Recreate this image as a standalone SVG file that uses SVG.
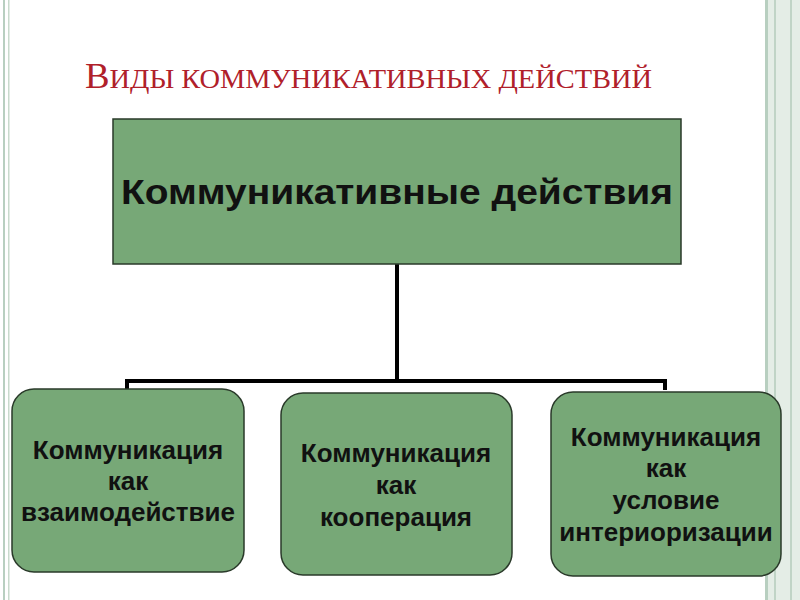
<svg xmlns="http://www.w3.org/2000/svg" width="800" height="600" viewBox="0 0 800 600">
<style>
.box{fill:#77A877;stroke:#2a3a2a;stroke-width:1.5}
.lbl{font-family:"Liberation Sans",Arial,sans-serif;font-weight:bold;font-size:26px;fill:#111;text-anchor:middle}
.con{fill:none;stroke:#000;stroke-width:4}
</style>
<rect width="800" height="600" fill="#fff"/>
<rect x="3" y="0" width="2" height="600" fill="#b8cfc0"/>
<rect x="8" y="0" width="1.5" height="600" fill="#c8dacc"/>
<rect x="765" y="0" width="35" height="600" fill="#e4ede6"/>
<rect x="765" y="0" width="3" height="600" fill="#b8cfc0"/>
<rect x="774" y="0" width="2" height="600" fill="#c0d4c6"/>
<rect x="790" y="0" width="2" height="600" fill="#c0d4c6"/>
<text x="85" y="88" font-family="'Liberation Serif','Times New Roman',serif" font-size="35" fill="#B0202A" textLength="567" lengthAdjust="spacingAndGlyphs">В<tspan font-size="27">ИДЫ КОММУНИКАТИВНЫХ ДЕЙСТВИЙ</tspan></text>
<g id="connectors">
<path class="con" d="M397 264V381M127 390V381H665V390"/>
</g>
<g id="top"><rect class="box" x="113" y="119" width="568" height="145"/>
<text class="lbl" x="397" y="204" style="font-size:35px" textLength="552" lengthAdjust="spacingAndGlyphs">Коммуникативные действия</text></g>
<g id="n1"><rect class="box" x="12" y="389" width="232" height="183" rx="22"/>
<text class="lbl" x="128" y="459">Коммуникация</text><text class="lbl" x="128" y="490">как</text><text class="lbl" x="128" y="521">взаимодействие</text></g>
<g id="n2"><rect class="box" x="281" y="393" width="231" height="182" rx="22"/>
<text class="lbl" x="396" y="462">Коммуникация</text><text class="lbl" x="396" y="494">как</text><text class="lbl" x="396" y="526">кооперация</text></g>
<g id="n3"><rect class="box" x="551" y="392" width="230" height="184" rx="22"/>
<text class="lbl" x="666" y="446">Коммуникация</text><text class="lbl" x="666" y="477">как</text><text class="lbl" x="666" y="509">условие</text><text class="lbl" x="666" y="541">интериоризации</text></g>
</svg>
